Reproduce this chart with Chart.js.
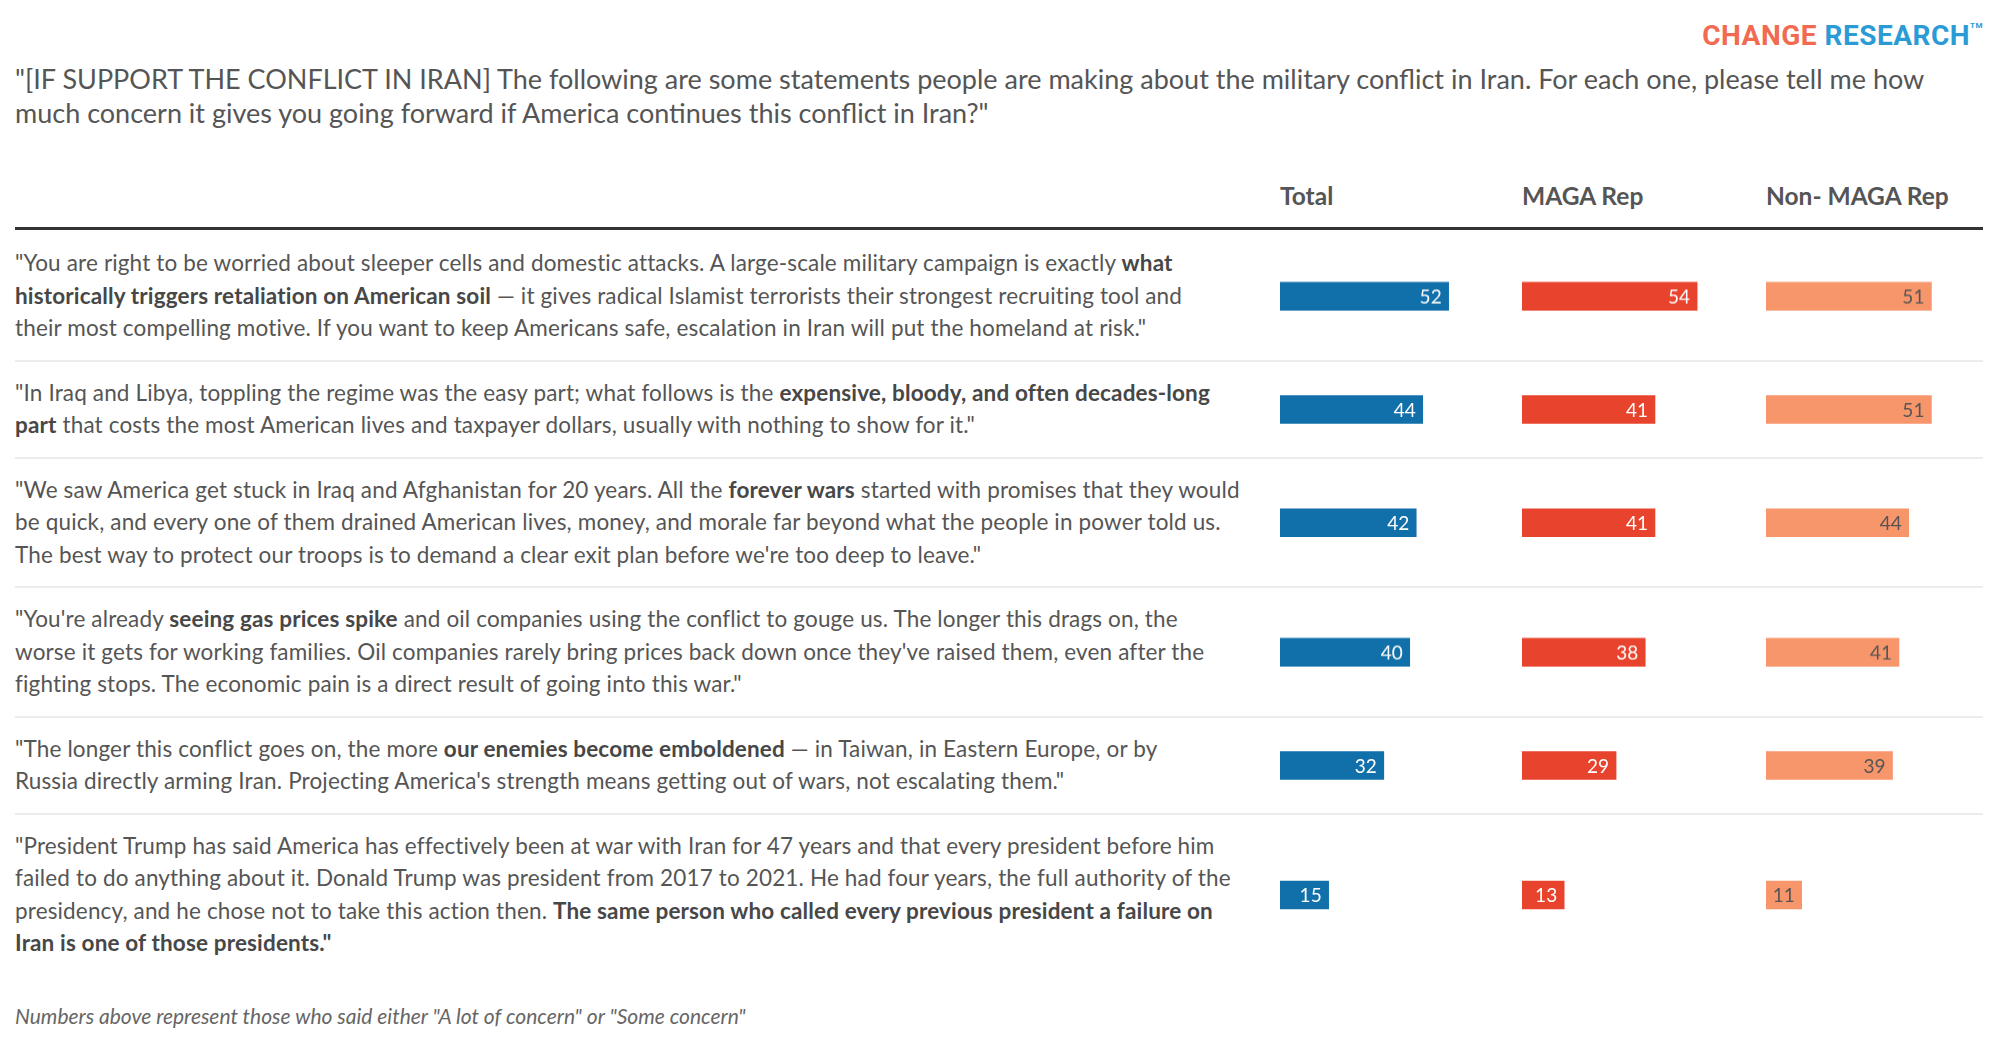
<!DOCTYPE html>
<html>
<head>
<meta charset="utf-8">
<script src="https://cdn.jsdelivr.net/npm/chart.js@4.4.1/dist/chart.umd.min.js"></script>
<style>
  html, body { margin: 0; padding: 0; background: #fff; }
  body { width: 1999px; height: 1056px; position: relative; overflow: hidden; font-family: Lato, "Open Sans", sans-serif; color: #555; }
  #logo { position: absolute; right: 16px; top: 19px; font-family: Roboto, sans-serif; font-weight: 700; font-size: 28px; letter-spacing: 0.5px; }
  #logo .c1 { color: #f26a4f; }
  #logo .c2 { color: #2b9bd6; }
  #logo sup { font-size: 8px; color: #2b9bd6; vertical-align: top; position: relative; top: 2px; }
  #title { position: absolute; left: 15px; top: 62px; font-size: 27px; line-height: 33.5px; white-space: nowrap; color: #555; }
  .head { position: absolute; top: 181px; font-size: 24.5px; line-height: 30px; font-weight: 700; color: #555; }
  #rule { position: absolute; top: 227px; left: 15px; width: 1968px; height: 3px; background: #333; }
  #table { position: absolute; top: 230px; left: 15px; width: 1968px; }
  .row { display: flex; border-bottom: 2px solid #ececec; }
  .row:first-child { padding-top: 2px; }
  .row:last-child { border-bottom: none; }
  .txt { flex: 0 0 1265px; padding: 15px 0; font-size: 22.5px; letter-spacing: 0.15px; line-height: 32.5px; white-space: nowrap; color: #555; }
  .txt b { color: #474747; font-weight: 700; }
  .cell { position: relative; flex: 0 0 242px; }
  .cell:nth-child(3) { flex-basis: 244px; }
  .cell:last-child { flex: 1 1 auto; }
  .cell .box { position: absolute; left: 0; top: 0; bottom: 0; width: 240px; }
  #foot { position: absolute; left: 15px; top: 1003px; font-size: 21px; font-style: italic; color: #666; }
</style>
</head>
<body>
<div id="logo"><span class="c1">CHANGE</span> <span class="c2">RESEARCH</span><sup>TM</sup></div>
<div id="title"></div>
<div id="heads"></div>
<div id="rule"></div>
<div id="table"></div>
<div id="foot">Numbers above represent those who said either "A lot of concern" or "Some concern"</div>

<script>
// question and column headings
const titleLines = [
    '"[IF SUPPORT THE CONFLICT IN IRAN] The following are some statements people are making about the military conflict in Iran. For each one, please tell me how',
    'much concern it gives you going forward if America continues this conflict in Iran?"'
];
const columns = ['Total', 'MAGA Rep', 'Non- MAGA Rep'];
const columnLeft = [1280, 1522, 1766];

// statements, one entry per row, one string per printed line
const statements = [
    ['"You are right to be worried about sleeper cells and domestic attacks. A large-scale military campaign is exactly <b>what</b>',
     '<b>historically triggers retaliation on American soil</b> — it gives radical Islamist terrorists their strongest recruiting tool and',
     'their most compelling motive. If you want to keep Americans safe, escalation in Iran will put the homeland at risk."'],
    ['"In Iraq and Libya, toppling the regime was the easy part; what follows is the <b>expensive, bloody, and often decades-long</b>',
     '<b>part</b> that costs the most American lives and taxpayer dollars, usually with nothing to show for it."'],
    ['"We saw America get stuck in Iraq and Afghanistan for 20 years. All the <b>forever wars</b> started with promises that they would',
     'be quick, and every one of them drained American lives, money, and morale far beyond what the people in power told us.',
     'The best way to protect our troops is to demand a clear exit plan before we\'re too deep to leave."'],
    ['"You\'re already <b>seeing gas prices spike</b> and oil companies using the conflict to gouge us. The longer this drags on, the',
     'worse it gets for working families. Oil companies rarely bring prices back down once they\'ve raised them, even after the',
     'fighting stops. The economic pain is a direct result of going into this war."'],
    ['"The longer this conflict goes on, the more <b>our enemies become emboldened</b> — in Taiwan, in Eastern Europe, or by',
     'Russia directly arming Iran. Projecting America\'s strength means getting out of wars, not escalating them."'],
    ['"President Trump has said America has effectively been at war with Iran for 47 years and that every president before him',
     'failed to do anything about it. Donald Trump was president from 2017 to 2021. He had four years, the full authority of the',
     'presidency, and he chose not to take this action then. <b>The same person who called every previous president a failure on</b>',
     '<b>Iran is one of those presidents."</b>']
];

// % a lot / some concern
const totalValues = [52, 44, 42, 40, 32, 15];
const magaValues = [54, 41, 41, 38, 29, 13];
const nonMagaValues = [51, 51, 44, 41, 39, 11];

const seriesValues = [totalValues, magaValues, nonMagaValues];
const barColors = ['#1170aa', '#e8432c', '#f7956b'];
const labelColors = ['#ffffff', '#ffffff', '#555555'];

document.getElementById('title').innerHTML = titleLines.join('<br>');

const heads = document.getElementById('heads');
columns.forEach((c, i) => {
    const d = document.createElement('div');
    d.className = 'head';
    d.style.left = columnLeft[i] + 'px';
    d.textContent = c;
    heads.appendChild(d);
});

// value label inside the end of each bar
const valueLabels = {
    id: 'valueLabels',
    afterDatasetsDraw(chart) {
        const ctx = chart.ctx;
        const meta = chart.getDatasetMeta(0);
        const ds = chart.data.datasets[0];
        ctx.save();
        ctx.font = '19px Lato, sans-serif';
        ctx.fillStyle = ds.labelColor;
        ctx.textAlign = 'right';
        ctx.textBaseline = 'middle';
        meta.data.forEach((bar, i) => {
            ctx.fillText(ds.data[i], bar.x - 7, bar.y + 1);
        });
        ctx.restore();
    }
};

const table = document.getElementById('table');
statements.forEach((lines, r) => {
    const row = document.createElement('div');
    row.className = 'row';
    const txt = document.createElement('div');
    txt.className = 'txt';
    txt.innerHTML = lines.join('<br>');
    row.appendChild(txt);

    seriesValues.forEach((vals, c) => {
        const cell = document.createElement('div');
        cell.className = 'cell';
        const box = document.createElement('div');
        box.className = 'box';
        const canvas = document.createElement('canvas');
        box.appendChild(canvas);
        cell.appendChild(box);
        row.appendChild(cell);

        new Chart(canvas, {
            type: 'bar',
            data: {
                labels: [columns[c]],
                datasets: [{
                    data: [vals[r]],
                    backgroundColor: barColors[c],
                    labelColor: labelColors[c],
                    borderWidth: 0,
                    barThickness: 28
                }]
            },
            options: {
                indexAxis: 'y',
                responsive: true,
                maintainAspectRatio: false,
                animation: false,
                layout: { padding: 0 },
                scales: {
                    x: { display: false, min: 0, max: 74 },
                    y: { display: false }
                },
                plugins: {
                    legend: { display: false },
                    tooltip: { enabled: false }
                }
            },
            plugins: [valueLabels]
        });
    });
    table.appendChild(row);
});
</script>
</body>
</html>
